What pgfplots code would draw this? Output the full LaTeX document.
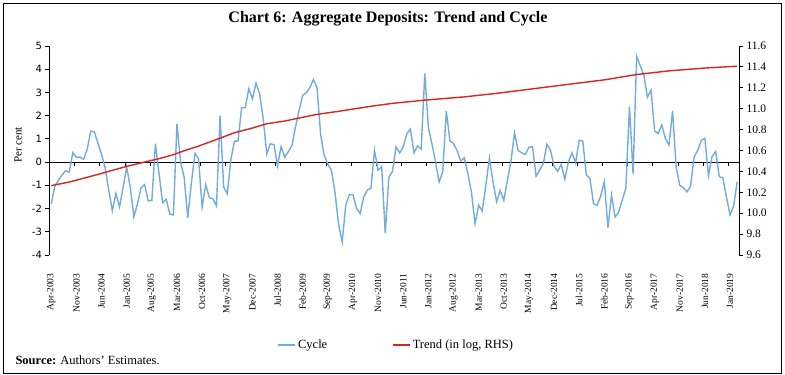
\documentclass[border=0pt]{standalone}
\usepackage{pgfplots}
\pgfplotsset{compat=1.18}
\usepackage{pgfplotstable}
\usepackage{fontspec}
\setmainfont{Liberation Serif}
\newfontfamily\tickfont{DejaVu Sans}
\definecolor{cyc}{RGB}{114,172,222}
\definecolor{trd}{RGB}{214,38,30}

\pgfplotstableread{
idx val
0 -1.80
1 -1.02
2 -0.78
3 -0.55
4 -0.37
5 -0.43
6 0.41
7 0.20
8 0.22
9 0.12
10 0.56
11 1.33
12 1.30
13 0.80
14 0.33
15 -0.25
16 -1.20
17 -2.10
18 -1.35
19 -1.93
20 -1.09
21 -0.22
22 -1.09
23 -2.36
24 -1.80
25 -1.10
26 -0.97
27 -1.67
28 -1.65
29 0.79
30 -0.50
31 -1.75
32 -1.60
33 -2.24
34 -2.28
35 1.65
36 0.00
37 -0.65
38 -2.40
39 -0.90
40 0.37
41 0.15
42 -1.94
43 -0.97
44 -1.53
45 -1.58
46 -1.89
47 2.00
48 -1.08
49 -1.36
50 0.10
51 0.90
52 0.91
53 2.34
54 2.35
55 3.16
56 2.72
57 3.40
58 2.96
59 1.87
60 0.35
61 0.79
62 0.75
63 -0.15
64 0.67
65 0.21
66 0.45
67 0.71
68 1.51
69 2.23
70 2.88
71 2.98
72 3.21
73 3.56
74 3.21
75 1.19
76 0.28
77 -0.09
78 -0.35
79 -1.30
80 -2.68
81 -3.44
82 -1.85
83 -1.40
84 -1.40
85 -1.99
86 -2.22
87 -1.50
88 -1.20
89 -1.13
90 0.50
91 -0.35
92 -0.20
93 -3.07
94 -0.65
95 -0.40
96 0.66
97 0.40
98 0.65
99 1.22
100 1.42
101 0.40
102 0.70
103 0.56
104 3.82
105 1.50
106 0.78
107 0.00
108 -0.86
109 -0.40
110 2.20
111 0.92
112 0.80
113 0.50
114 0.05
115 0.18
116 -0.50
117 -1.30
118 -2.66
119 -1.85
120 -2.10
121 -1.00
122 0.17
123 -0.85
124 -1.70
125 -1.22
126 -1.65
127 -0.80
128 0.05
129 1.26
130 0.50
131 0.40
132 0.33
133 0.64
134 0.66
135 -0.60
136 -0.34
137 -0.07
138 0.78
139 0.52
140 -0.18
141 -0.40
142 -0.10
143 -0.73
144 0.02
145 0.40
146 -0.03
147 0.94
148 0.91
149 -0.56
150 -0.71
151 -1.80
152 -1.86
153 -1.45
154 -0.84
155 -2.82
156 -1.42
157 -2.37
158 -2.15
159 -1.62
160 -1.12
161 2.39
162 -0.49
163 4.55
164 4.15
165 3.75
166 2.80
167 3.10
168 1.34
169 1.23
170 1.60
171 1.02
172 0.74
173 2.20
174 -0.20
175 -1.00
176 -1.10
177 -1.28
178 -1.05
179 0.22
180 0.50
181 0.94
182 1.02
183 -0.58
184 0.24
185 0.46
186 -0.63
187 -0.68
188 -1.50
189 -2.28
190 -1.90
191 -0.84
}\cycledata

\pgfplotstableread{
idx val
0 10.264
5 10.298
12 10.362
17 10.410
21 10.448
27 10.498
30 10.522
34 10.560
37 10.598
41 10.642
46 10.705
51 10.770
56 10.815
60 10.856
65 10.882
70 10.918
74 10.946
80 10.975
85 11.002
90 11.028
95 11.051
104 11.082
115 11.113
124 11.147
134 11.190
143 11.229
154 11.276
163 11.327
172 11.362
182 11.389
191 11.407
}\trenddata

\begin{document}
\begin{tikzpicture}
\useasboundingbox (0pt,0pt) rectangle (785pt,375pt);
\draw[line width=0.8pt] (3pt,2pt) rectangle (781pt,372pt);
\node[font=\bfseries\fontsize{16}{19}\selectfont] at (388pt,356pt) {Chart 6: Aggregate Deposits: Trend and Cycle};
\node[anchor=base west, font=\fontsize{12.5}{14}\selectfont] at (12pt,10pt) {\textbf{Source:} Authors' Estimates.};

\begin{axis}[
  at={(49.5pt,120pt)}, anchor=south west,
  scale only axis, width=689.5pt, height=209pt,
  xmin=-0.5, xmax=191.5, ymin=-4, ymax=5,
  axis y line*=left, axis x line*=bottom,
  x axis line style={draw=none},
  y axis line style={line width=0.8pt},
  xtick={0,7,...,189},
  xticklabels={Apr-2003,Nov-2003,Jun-2004,Jan-2005,Aug-2005,Mar-2006,Oct-2006,May-2007,Dec-2007,Jul-2008,Feb-2009,Sep-2009,Apr-2010,Nov-2010,Jun-2011,Jan-2012,Aug-2012,Mar-2013,Oct-2013,May-2014,Dec-2014,Jul-2015,Feb-2016,Sep-2016,Apr-2017,Nov-2017,Jun-2018,Jan-2019},
  xticklabel style={rotate=90, anchor=east, font=\fontsize{9.5}{11}\selectfont},
  xticklabel shift=11pt,
  x tick style={draw=none},
  ytick={-4,-3,...,5},
  yticklabel style={font=\tickfont\fontsize{10}{11}\selectfont, /pgf/number format/assume math mode=true},
  y tick style={black, line width=0.8pt},
  tick align=outside,
  major tick length=4pt,
  ylabel={Per cent},
  ylabel style={at={(axis description cs:-0.0455,0.526)}, anchor=center, font=\fontsize{11}{12}\selectfont},
]
\draw[black, line width=0.8pt] (axis cs:-0.5,0) -- (axis cs:191.5,0);
\pgfplotsinvokeforeach{1,...,27}{\draw[black, line width=0.8pt] (axis cs:{7*#1-0.5},0) -- ++(0pt,-3.5pt);}
\addplot[cyc, line width=1.4pt, no marks] table[x=idx,y=val]{\cycledata};
\end{axis}

\begin{axis}[
  at={(49.5pt,120pt)}, anchor=south west,
  scale only axis, width=689.5pt, height=209pt,
  xmin=-0.5, xmax=191.5, ymin=9.6, ymax=11.6,
  axis y line*=right, axis x line=none,
  y axis line style={line width=0.8pt},
  ytick={9.6,9.8,10.0,10.2,10.4,10.6,10.8,11.0,11.2,11.4,11.6},
  yticklabel style={font=\fontsize{11.5}{13}\selectfont, /pgf/number format/.cd, fixed, fixed zerofill, precision=1, assume math mode=true},
  tick align=outside, major tick length=4pt,
  y tick style={black, line width=0.8pt},
  legend style={at={(axis description cs:0.503,-0.4306)}, anchor=center, draw=none, fill=none, legend columns=2, font=\fontsize{12.5}{14}\selectfont, /tikz/every even column/.append style={column sep=63pt}},
]
\addlegendimage{cyc, line width=1.4pt}
\addlegendentry{Cycle}
\addplot[trd, line width=1.4pt, no marks] table[x=idx,y=val]{\trenddata};
\addlegendentry{Trend (in log, RHS)}
\end{axis}
\end{tikzpicture}
\end{document}
